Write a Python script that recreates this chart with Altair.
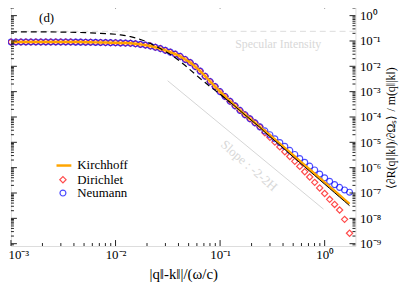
import altair as alt
import pandas as pd

# sample positions |q-k|/(omega/c)
q = [0.001, 0.001116, 0.0012455, 0.0013895, 0.0015506, 0.0017302, 0.0019307, 0.0021544, 0.002404, 0.0026827,
     0.0029935, 0.0033405, 0.0037276, 0.0041595, 0.0046416, 0.0051795, 0.0057797, 0.0064495, 0.0071969, 0.0080309,
     0.0089615,
     0.01, 0.01116, 0.012455, 0.013895, 0.015506, 0.017302, 0.019307, 0.021544, 0.02404, 0.026827,
     0.029935, 0.033405, 0.037276, 0.041595, 0.046416, 0.051795, 0.057797, 0.064495, 0.071969, 0.080309,
     0.089615,
     0.1, 0.1116, 0.12455, 0.13895, 0.15506, 0.17302, 0.19307, 0.21544, 0.2404, 0.26827,
     0.29935, 0.33405, 0.37276, 0.41595, 0.46416, 0.51795, 0.57797, 0.64495, 0.71969, 0.80309,
     0.89615,
     1.0, 1.116, 1.2455, 1.3895, 1.5506, 1.7302]

# log10 of the normalised mean DRC
common = [-1.04, -1.04, -1.04, -1.04, -1.04, -1.04, -1.04, -1.04, -1.04, -1.04, -1.04, -1.04, -1.04,
          -1.045, -1.045, -1.05, -1.05, -1.055, -1.06, -1.063, -1.067,
          -1.07, -1.077, -1.084, -1.09, -1.11, -1.135, -1.163, -1.20, -1.25, -1.30,
          -1.37, -1.44, -1.52, -1.61, -1.73, -1.85, -2.01, -2.19, -2.39, -2.60,
          -2.80, -3.00, -3.19, -3.38, -3.56, -3.74, -3.91, -4.07, -4.23, -4.39]
kirchhoff_tail = [-4.56, -4.72, -4.89, -5.05, -5.22, -5.39, -5.56, -5.73, -5.90, -6.07, -6.24, -6.41,
                  -6.58, -6.75, -6.92, -7.09, -7.26, -7.43]
dirichlet_tail = [-4.62, -4.80, -4.99, -5.18, -5.37, -5.56, -5.75, -5.95, -6.16, -6.37, -6.58, -6.80,
                  -7.02, -7.25, -7.45, -7.67, -8.04, -8.59]
neumann_tail = [-4.55, -4.70, -4.86, -5.01, -5.16, -5.32, -5.48, -5.64, -5.79, -5.94, -6.09, -6.25,
                -6.40, -6.54, -6.67, -6.78, -6.88, -6.97]

log_kirchhoff = common + kirchhoff_tail
log_dirichlet = common + dirichlet_tail
log_neumann = common + neumann_tail

# black dashed curve (first 45 samples) and black solid curve (samples 42..68)
log_dashed = [-0.64, -0.64, -0.64, -0.64, -0.64, -0.64, -0.64, -0.64, -0.64,
              -0.645, -0.65, -0.65, -0.655, -0.66, -0.665, -0.67, -0.68, -0.69, -0.70, -0.71, -0.72,
              -0.735, -0.76, -0.79, -0.83, -0.88, -0.94, -1.01, -1.10, -1.20, -1.30,
              -1.41, -1.52, -1.66, -1.81, -1.97, -2.14, -2.31, -2.48, -2.64, -2.80,
              -2.95, -3.10, -3.26, -3.42]
log_solid = [-3.10, -3.26, -3.42, -3.58, -3.75, -3.92, -4.08, -4.25, -4.41, -4.60, -4.77, -4.94,
             -5.11, -5.28, -5.46, -5.63, -5.80, -5.97, -6.14, -6.31, -6.48, -6.65, -6.82, -6.99,
             -7.16, -7.33, -7.50]

specular = 0.24
slope_q = [0.0315, 0.976]
slope_r = [2.7e-3, 2.3e-8]

x_major = [0.001, 0.01, 0.1, 1.0]
y_major = [1e0, 1e-1, 1e-2, 1e-3, 1e-4, 1e-5, 1e-6, 1e-7, 1e-8, 1e-9]
X_DOMAIN = [0.001, 1.97]
Y_DOMAIN = [8.1e-10, 3.3]
x_minor = [m * 10.0 ** k for k in range(-3, 1) for m in range(2, 10) if m * 10.0 ** k <= X_DOMAIN[1]]
y_minor = [m * 10.0 ** k for k in range(-10, 1) for m in range(2, 10)
           if Y_DOMAIN[0] <= m * 10.0 ** k <= Y_DOMAIN[1]]

W, H = 348, 246
FONT = "Liberation Serif"


def frame(xs, logs):
    return pd.DataFrame({"q": xs, "r": [10 ** v for v in logs]})


SUP = "['⁰','¹','²','³','⁴','⁵','⁶','⁷','⁸','⁹']"
LAB = ("'10' + (round(log(datum.value)/LN10) < 0 ? '⁻' : '') + " + SUP +
       "[abs(round(log(datum.value)/LN10))]")

xscale = alt.Scale(type="log", domain=X_DOMAIN, nice=False)
yscale = alt.Scale(type="log", domain=Y_DOMAIN, nice=False)
xaxis = alt.Axis(values=x_major, labelExpr=LAB, ticks=False, domain=False, grid=False,
                 labelFont=FONT, labelFontSize=13, labelColor="black", labelPadding=3,
                 labelFlush=True, labelFlushOffset=3, labelOverlap=False,
                 title="|q‖-k‖|/(ω/c)", titleFont=FONT, titleFontSize=15,
                 titleFontWeight="normal", titleColor="black", titlePadding=5)
yaxis = alt.Axis(orient="right", values=y_major, labelExpr=LAB, ticks=False, domain=False, grid=False,
                 labelFont=FONT, labelFontSize=13, labelColor="black", labelPadding=4,
                 labelFlush=False, labelOverlap=False, title="")

X = alt.X("q:Q", scale=xscale, axis=xaxis)
Y = alt.Y("r:Q", scale=yscale, axis=yaxis)

one = pd.DataFrame({"a": [0]})

spec_rule = alt.Chart(one).mark_rule(color="#dcdcdc", strokeDash=[6, 4], strokeWidth=1).encode(
    y=alt.datum(specular, scale=yscale, axis=yaxis))
slope_line = alt.Chart(frame(slope_q, [0, 0]).assign(r=slope_r)).mark_line(
    color="#d4d4d4", strokeWidth=1).encode(x=X, y=Y)
spec_text = alt.Chart(one).mark_text(font=FONT, fontSize=12, color="#d8d8d8").encode(
    x=alt.value(270), y=alt.value(41.5), text=alt.value("Specular Intensity"))
slope_text = alt.Chart(one).mark_text(font=FONT, fontSize=13, color="#d8d8d8", angle=41).encode(
    x=alt.value(240.5), y=alt.value(165), text=alt.value("Slope : -2-2H"))
y_title = alt.Chart(one).mark_text(font=FONT, fontSize=12, color="black", angle=270).encode(
    x=alt.value(W + 36), y=alt.value(127), text=alt.value("⟨∂R(q‖|k‖)/∂Ωₛ⟩ / m(q‖|k‖)"))

diamonds = alt.Chart(frame(q, log_dirichlet)).mark_point(
    shape="diamond", filled=False, color="#ff0000", size=40, strokeWidth=1.2).encode(x=X, y=Y)
circles = alt.Chart(frame(q, log_neumann)).mark_point(
    shape="circle", filled=False, color="#0000ff", size=36, strokeWidth=1.2).encode(x=X, y=Y)
orange = alt.Chart(frame(q, log_kirchhoff)).mark_line(color="#ffa500", strokeWidth=2.5).encode(x=X, y=Y)
dashed = alt.Chart(frame(q[:45], log_dashed)).mark_line(
    color="black", strokeWidth=1.2, strokeDash=[6, 4]).encode(x=X, y=Y)
solid = alt.Chart(frame(q[42:], log_solid)).mark_line(color="black", strokeWidth=1).encode(x=X, y=Y)


def xticks(vals, length):
    d = pd.DataFrame({"q": vals})
    bottom = alt.Chart(d).mark_rule(color="#222", strokeWidth=1).encode(
        x=X, y=alt.value(H), y2=alt.value(H - length))
    top = alt.Chart(d).mark_rule(color="#222", strokeWidth=1).encode(
        x=X, y=alt.value(0), y2=alt.value(length))
    return [bottom, top]


def yticks(vals, length):
    d = pd.DataFrame({"r": vals})
    left = alt.Chart(d).mark_rule(color="#222", strokeWidth=1).encode(
        y=Y, x=alt.value(0), x2=alt.value(length))
    right = alt.Chart(d).mark_rule(color="#222", strokeWidth=1).encode(
        y=Y, x=alt.value(W), x2=alt.value(W - length))
    return [left, right]


ticks = xticks(x_major, 6) + xticks(x_minor, 3) + yticks(y_major, 6) + yticks(y_minor, 3)

label_d = alt.Chart(one).mark_text(font=FONT, fontSize=13, color="black").encode(
    x=alt.value(36), y=alt.value(16), text=alt.value("(d)"))
leg_line = alt.Chart(one).mark_rule(color="#ffa500", strokeWidth=2.5).encode(
    x=alt.value(46), x2=alt.value(61), y=alt.value(164.7))
leg_diam = alt.Chart(one).mark_point(shape="diamond", filled=False, color="#ff0000", size=40,
                                     strokeWidth=1.2).encode(x=alt.value(52.5), y=alt.value(179))
leg_circ = alt.Chart(one).mark_point(shape="circle", filled=False, color="#0000ff", size=36,
                                     strokeWidth=1.2).encode(x=alt.value(52.5), y=alt.value(192.5))
leg_texts = [
    alt.Chart(one).mark_text(font=FONT, fontSize=13, color="black", align="left").encode(
        x=alt.value(67), y=alt.value(yy), text=alt.value(tt))
    for tt, yy in [("Kirchhoff", 164.7), ("Dirichlet", 179), ("Neumann", 192.5)]
]

chart = alt.layer(
    spec_rule, slope_line, spec_text, slope_text,
    diamonds, circles, orange, dashed, solid,
    *ticks, label_d, leg_line, leg_diam, leg_circ, *leg_texts, y_title
).properties(
    width=W, height=H, autosize="none",
    padding={"left": 3, "top": -7, "right": 44, "bottom": 42},
).configure_view(stroke="#222", strokeWidth=1).configure(background="white")

chart.save("out.html", embed_options={"renderer": "svg", "actions": False})
